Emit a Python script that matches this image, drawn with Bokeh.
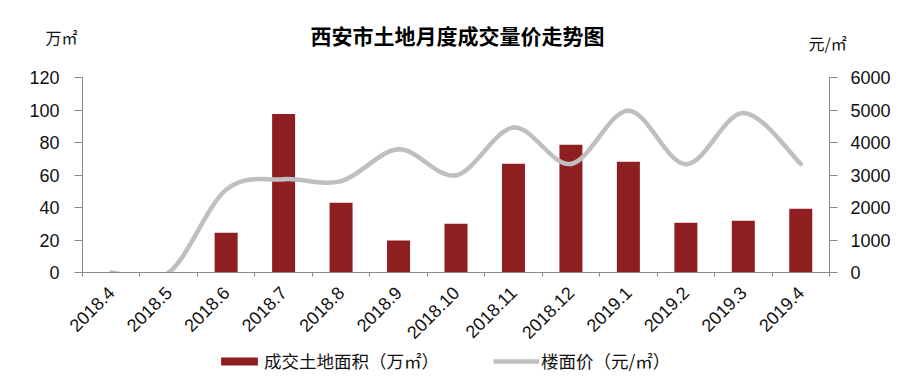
from bokeh.plotting import figure
from bokeh.layouts import column
from bokeh.models import Range1d, LinearAxis, FixedTicker, Label, Legend, LegendItem
from bokeh.embed import file_html
from bokeh.resources import INLINE
import math

# ---- data ----
months = ["2018.4", "2018.5", "2018.6", "2018.7", "2018.8", "2018.9", "2018.10",
          "2018.11", "2018.12", "2019.1", "2019.2", "2019.3", "2019.4"]
area = [0, 0, 24.4, 97.5, 42.9, 19.7, 30.0, 66.9, 78.6, 68.1, 30.6, 31.8, 39.2]     # 万㎡
price = [0, 0, 2550, 2870, 2810, 3790, 2990, 4460, 3340, 4980, 3330, 4910, 3340]  # 元/㎡
left_ticks = [0, 20, 40, 60, 80, 100, 120]
right_ticks = [0, 1000, 2000, 3000, 4000, 5000, 6000]

title_text = "西安市土地月度成交量价走势图"
left_unit = "万㎡"
right_unit = "元/㎡"
bar_label = "成交土地面积（万㎡）"
line_label = "楼面价（元/㎡）"

BAR = "#8E1E20"
LINE = "#BFBFBF"
AXIS = "#898989"
NUM_FONT = "Liberation Sans"
CJK = "Noto Sans CJK SC"
W = 913
BL, BR = 82, 84   # left / right borders (frame edges)
HEAD_H = 60
MAIN_H = 288
FOOT_H = 385 - HEAD_H - MAIN_H


def bare(height, x_range, y_range):
    f = figure(width=W, height=height, output_backend="svg", toolbar_location=None,
               x_range=x_range, y_range=y_range,
               x_axis_location=None, y_axis_location=None,
               min_border_left=BL, min_border_right=BR, min_border_top=0, min_border_bottom=0)
    f.outline_line_color = None
    f.xgrid.visible = False
    f.ygrid.visible = False
    return f


# ---------- header: title + unit labels ----------
head = bare(HEAD_H, Range1d(0, 1), Range1d(HEAD_H, 0))
head.add_layout(Label(x=457 - BL, y=HEAD_H - 34, x_units="screen", y_units="screen",
                      text=title_text, text_font=CJK, text_font_style="bold",
                      text_font_size="21px", text_align="center", text_baseline="middle",
                      text_color="#000000"))


def unit_axis(txt, ypos, standoff):
    ax = LinearAxis(ticker=FixedTicker(ticks=[ypos], minor_ticks=[]))
    ax.major_label_overrides = {ypos: txt}
    ax.axis_line_color = None
    ax.major_tick_line_color = None
    ax.minor_tick_line_color = None
    ax.major_tick_out = 0
    ax.major_tick_in = 0
    ax.major_label_standoff = standoff
    ax.major_label_text_font = CJK
    ax.major_label_text_font_size = "16px"
    ax.major_label_text_color = "#111111"
    return ax


head.add_layout(unit_axis(left_unit, 36, 5), "left")
head.add_layout(unit_axis(right_unit, 42, -21), "right")

# ---------- main chart ----------
n = len(months)
xs = list(range(n))

p = figure(width=W, height=MAIN_H, output_backend="svg", toolbar_location=None,
           x_range=Range1d(-0.5, n - 0.5), y_range=Range1d(left_ticks[0], left_ticks[-1]),
           min_border_left=BL, min_border_right=BR, min_border_top=17,
           min_border_bottom=MAIN_H - 17 - 195,
           x_axis_location=None, y_axis_location=None)
p.extra_y_ranges = {"price": Range1d(right_ticks[0], right_ticks[-1])}
p.outline_line_color = None
p.xgrid.visible = False
p.ygrid.visible = False

p.vbar(x=xs, top=area, width=0.4, bottom=0, fill_color=BAR, line_color=None)

# smoothed line (Catmull-Rom style bezier through the data points)
x0s, y0s, x1s, y1s, cx0s, cy0s, cx1s, cy1s = [], [], [], [], [], [], [], []
for i in range(n - 1):
    xa, ya = xs[max(i - 1, 0)], price[max(i - 1, 0)]
    xb, yb = xs[i], price[i]
    xc, yc = xs[i + 1], price[i + 1]
    xd, yd = xs[min(i + 2, n - 1)], price[min(i + 2, n - 1)]
    x0s.append(xb); y0s.append(yb); x1s.append(xc); y1s.append(yc)
    cx0s.append(xb + (xc - xa) / 6.0); cy0s.append(yb + (yc - ya) / 6.0)
    cx1s.append(xc - (xd - xb) / 6.0); cy1s.append(yc - (yd - yb) / 6.0)
p.bezier(x0=x0s, y0=y0s, x1=x1s, y1=y1s, cx0=cx0s, cy0=cy0s, cx1=cx1s, cy1=cy1s,
         line_color=LINE, line_width=4.5, line_cap="round", y_range_name="price")


def style_axis(ax, standoff):
    ax.axis_line_color = AXIS
    ax.major_tick_line_color = AXIS
    ax.minor_tick_line_color = AXIS
    ax.major_label_text_font = NUM_FONT
    ax.major_label_text_font_size = "18px"
    ax.major_label_text_color = "#111111"
    ax.major_label_standoff = standoff


ly = LinearAxis(ticker=FixedTicker(ticks=left_ticks, minor_ticks=[]))
style_axis(ly, 15)
ly.major_tick_out = 8
ly.major_tick_in = 0
p.add_layout(ly, "left")

ry = LinearAxis(y_range_name="price", ticker=FixedTicker(ticks=right_ticks, minor_ticks=[]))
style_axis(ry, 13)
ry.major_tick_out = 8
ry.major_tick_in = 0
p.add_layout(ry, "right")

bx = LinearAxis(ticker=FixedTicker(ticks=xs, minor_ticks=[i - 0.5 for i in range(n + 1)]))
style_axis(bx, 13)
bx.major_label_overrides = {i: m for i, m in enumerate(months)}
bx.major_tick_line_color = None
bx.major_tick_out = 0
bx.major_tick_in = 0
bx.minor_tick_out = 4
bx.minor_tick_in = 0
bx.major_label_orientation = math.pi / 4
p.add_layout(bx, "below")

# ---------- footer: legend (legend-only renderers, not drawn) ----------
foot = bare(FOOT_H, Range1d(-0.5, n - 0.5), Range1d(left_ticks[0], left_ticks[-1]))
fb = foot.vbar(x=xs, top=area, width=0.4, fill_color=BAR, line_color=None, visible=False)
fl = foot.line(x=xs, y=area, line_color=LINE, line_width=4.5, visible=False)
legend = Legend(items=[LegendItem(label=bar_label, renderers=[fb]),
                       LegendItem(label=line_label, renderers=[fl])],
                orientation="horizontal", location=(134, 12),
                glyph_width=46, glyph_height=10, label_standoff=2, spacing=54,
                padding=0, margin=0, border_line_color=None, background_fill_alpha=0,
                inactive_fill_alpha=0,
                label_text_font=CJK, label_text_font_size="17.5px", label_text_color="#111111")
foot.add_layout(legend, "center")

layout = column(head, p, foot, spacing=0)
open("out.html", "w").write(file_html(layout, INLINE))
